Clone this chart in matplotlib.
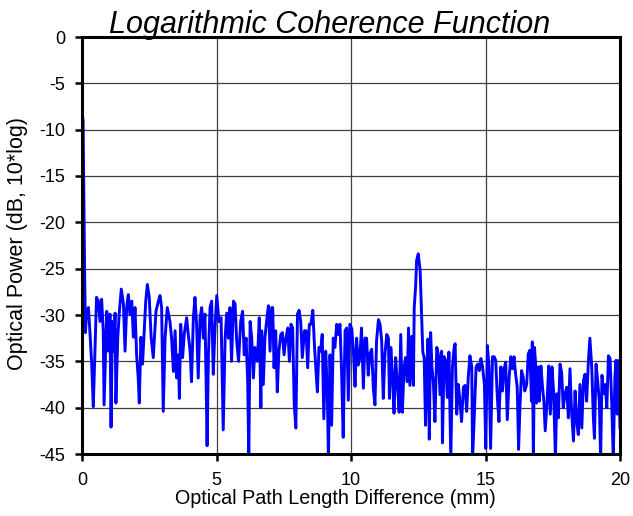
import numpy as np
import matplotlib
matplotlib.use("Agg")
import matplotlib.pyplot as plt

plt.rcParams['font.family'] = ['Liberation Sans', 'DejaVu Sans']

title = "Logarithmic Coherence Function"
xlabel = "Optical Path Length Difference (mm)"
ylabel = "Optical Power (dB, 10*log)"
xticks = [0, 5, 10, 15, 20]
yticks = [0, -5, -10, -15, -20, -25, -30, -35, -40, -45]

# segment 0: zero-delay peak and 0-3.3 mm
x_seg1 = [0.0, 0.04, 0.06, 0.08, 0.10, 0.13, 0.17, 0.24, 0.30, 0.36, 0.42, 0.48, 0.54, 0.61, 0.67,
          0.73, 0.79, 0.82, 0.92, 0.98, 1.04, 1.08, 1.13, 1.17, 1.23, 1.26, 1.33, 1.39, 1.46,
          1.54, 1.60, 1.66, 1.72, 1.78, 1.85, 1.91, 1.97, 2.03, 2.09, 2.13, 2.19, 2.25, 2.30,
          2.37, 2.43, 2.50, 2.57, 2.65, 2.75, 2.84, 2.90, 2.96, 3.02, 3.09, 3.17, 3.27]
y_seg1 = [-8.2, -9.0, -15.0, -21.0, -26.0, -31.9, -29.6, -29.2, -32.1, -35.3, -39.9, -33.8, -28.1, -28.5, -30.7,
          -28.3, -31.7, -39.7, -29.6, -33.9, -29.9, -42.1, -30.7, -33.9, -29.8, -39.5, -32.4, -29.6, -27.2,
          -28.8, -33.9, -29.2, -27.8, -29.9, -28.5, -32.4, -29.2, -34.3, -36.8, -39.5, -32.4, -35.3, -32.4,
          -28.5, -26.7, -28.1, -32.4, -34.6, -29.6, -28.5, -27.9, -29.2, -40.4, -32.4, -29.2, -30.7]

x_seg2 = [3.33, 3.40, 3.46, 3.52, 3.58, 3.62, 3.67, 3.74, 3.80, 3.89, 3.95, 4.02, 4.07, 4.14,
          4.20, 4.26, 4.32, 4.39, 4.45, 4.51, 4.57, 4.61, 4.65, 4.70, 4.76, 4.82, 4.88, 4.94,
          5.01, 5.09, 5.17, 5.25, 5.32, 5.38, 5.44, 5.50, 5.56, 5.63, 5.69, 5.75, 5.82, 5.90,
          5.97, 6.03, 6.10, 6.16, 6.20, 6.25, 6.31, 6.37, 6.43, 6.52, 6.59, 6.65]
y_seg2 = [-32.5, -36.1, -31.7, -36.8, -34.3, -39.0, -31.0, -34.6, -32.1, -30.3, -32.1, -33.9, -37.2, -30.3,
          -28.1, -31.0, -36.8, -30.3, -29.2, -32.5, -29.9, -36.4, -44.1, -34.3, -29.2, -28.5, -36.4, -31.7,
          -27.9, -30.7, -30.3, -42.4, -32.5, -29.8, -32.5, -29.2, -35.0, -28.5, -28.8, -32.8, -35.0, -30.7,
          -29.6, -34.3, -32.5, -37.2, -45.5, -30.7, -32.5, -36.8, -33.5, -35.0, -30.3, -40.0]

x_seg3 = [6.68, 6.74, 6.80, 6.86, 6.93, 6.99, 7.05, 7.09, 7.14, 7.20, 7.26, 7.32, 7.39, 7.45,
          7.51, 7.58, 7.65, 7.71, 7.77, 7.83, 7.89, 7.95, 8.01, 8.07, 8.13, 8.19, 8.27, 8.33,
          8.39, 8.45, 8.51, 8.58, 8.64, 8.70, 8.75, 8.81, 8.87, 8.93, 8.99, 9.06, 9.12, 9.16,
          9.22, 9.28, 9.34, 9.40, 9.47, 9.53, 9.59, 9.65, 9.71, 9.78, 9.84, 9.90, 9.96]
y_seg3 = [-31.7, -37.5, -32.5, -30.7, -29.0, -33.9, -29.2, -29.2, -35.7, -31.7, -38.3, -33.9, -32.1, -31.9,
          -34.3, -32.5, -31.4, -35.0, -31.0, -31.4, -39.7, -42.2, -29.9, -29.5, -30.7, -34.6, -31.7, -31.7,
          -35.7, -31.0, -31.0, -29.5, -33.2, -36.1, -38.3, -33.5, -33.9, -32.1, -41.2, -33.9, -38.3, -45.5,
          -34.3, -41.9, -32.5, -33.5, -31.0, -32.1, -31.0, -36.1, -43.2, -31.7, -31.4, -39.2, -31.0]

x_seg4 = [10.03, 10.09, 10.15, 10.21, 10.27, 10.33, 10.39, 10.46, 10.52, 10.58, 10.64, 10.71, 10.77,
          10.83, 10.89, 10.95, 11.02, 11.08, 11.14, 11.20, 11.26, 11.33, 11.39, 11.43, 11.48, 11.54,
          11.60, 11.66, 11.72, 11.79, 11.85, 11.91, 11.97, 12.03, 12.09, 12.14, 12.19, 12.26, 12.32,
          12.35, 12.40, 12.44, 12.50, 12.57, 12.63, 12.67, 12.72, 12.77, 12.81, 12.86, 12.91, 12.96,
          13.01, 13.06, 13.12, 13.19, 13.25, 13.31, 13.37]
y_seg4 = [-31.5, -33.9, -37.7, -32.5, -35.4, -34.6, -31.4, -37.9, -32.5, -32.5, -36.5, -34.1, -33.7,
          -37.9, -39.7, -32.8, -30.5, -31.0, -32.8, -39.0, -34.3, -32.1, -32.5, -39.0, -33.5, -36.5,
          -40.6, -34.6, -37.2, -40.5, -32.1, -40.5, -35.7, -34.6, -37.2, -31.4, -37.6, -32.3, -37.6,
          -29.2, -27.0, -24.1, -23.4, -25.2, -30.3, -34.0, -34.6, -41.9, -36.5, -32.6, -43.4, -31.9,
          -35.7, -37.2, -41.5, -33.5, -34.3, -38.6, -33.9]

x_seg5 = [13.40, 13.46, 13.52, 13.58, 13.64, 13.71, 13.77, 13.83, 13.87, 13.93, 13.99, 14.05, 14.11,
          14.18, 14.24, 14.30, 14.36, 14.42, 14.49, 14.52, 14.58, 14.65, 14.71, 14.77, 14.83, 14.89,
          14.96, 15.01, 15.07, 15.13, 15.19, 15.26, 15.32, 15.38, 15.44, 15.50, 15.57, 15.63, 15.69,
          15.75, 15.81, 15.88, 15.94, 16.00, 16.06, 16.12, 16.18, 16.23, 16.28, 16.34, 16.40, 16.46,
          16.53, 16.59, 16.65, 16.71]
y_seg5 = [-43.8, -34.5, -34.9, -38.9, -34.0, -45.5, -35.6, -33.6, -33.1, -40.7, -37.5, -39.3, -41.5,
          -37.8, -37.6, -40.4, -36.7, -34.4, -35.6, -45.5, -41.1, -35.6, -35.3, -36.0, -34.7, -35.6,
          -37.5, -44.4, -33.3, -35.6, -44.4, -34.5, -34.5, -34.9, -38.9, -41.5, -35.6, -38.2, -35.8,
          -35.1, -41.3, -36.7, -34.5, -35.8, -34.5, -36.4, -37.8, -44.5, -40.0, -36.0, -36.7, -38.2,
          -37.5, -34.2, -33.8, -39.3]

x_seg6 = [16.74, 16.78, 16.82, 16.86, 16.90, 16.96, 17.00, 17.06, 17.12, 17.17, 17.22, 17.29, 17.35,
          17.41, 17.47, 17.53, 17.60, 17.65, 17.71, 17.77, 17.83, 17.89, 17.96, 18.02, 18.08, 18.14,
          18.20, 18.27, 18.33, 18.39, 18.45, 18.51, 18.58, 18.64, 18.70, 18.76, 18.82, 18.88, 18.95,
          19.01, 19.05, 19.11, 19.17, 19.23, 19.28, 19.33, 19.39, 19.45, 19.51, 19.57, 19.63, 19.69,
          19.75, 19.81, 19.85, 19.90, 19.94, 20.00]
y_seg6 = [-32.9, -45.5, -33.5, -35.1, -39.5, -35.6, -39.3, -35.5, -37.8, -39.3, -42.5, -39.3, -35.5,
          -40.7, -35.6, -38.2, -45.5, -38.5, -41.1, -35.3, -36.2, -40.0, -38.5, -37.8, -41.1, -35.8,
          -40.4, -43.6, -38.2, -41.5, -42.9, -37.5, -42.2, -37.1, -36.4, -39.3, -35.3, -32.5, -35.6,
          -41.1, -43.3, -35.3, -37.1, -39.3, -45.5, -36.5, -38.5, -37.5, -40.0, -34.4, -34.7, -39.3,
          -45.5, -36.7, -34.9, -40.7, -34.9, -42.2]

x_all = np.concatenate([x_seg1, x_seg2, x_seg3, x_seg4, x_seg5, x_seg6])
y_all = np.concatenate([y_seg1, y_seg2, y_seg3, y_seg4, y_seg5, y_seg6])

fig = plt.figure(figsize=(6.33, 5.16), dpi=100)
ax = fig.add_axes([82/633, 62/516, 538/633, 417/516])

ax.plot(x_all, y_all, color='#0000FF', linewidth=2.1, zorder=3, clip_on=True)

ax.set_xlim(0, 20)
ax.set_ylim(-45, 0)
ax.set_xticks(xticks)
ax.set_yticks(yticks)
ax.set_xticklabels([str(t) for t in xticks], fontsize=13)
ax.set_yticklabels([str(t) for t in yticks], fontsize=13)
ax.grid(True, color='#404040', linewidth=0.9, zorder=1)
for s in ax.spines.values():
    s.set_linewidth(2.2)
    s.set_color('black')
    s.set_zorder(4)
ax.tick_params(axis='both', direction='out', length=5, width=1.8, colors='black')
ax.tick_params(axis='x', pad=8)
ax.tick_params(axis='y', pad=7)

fig.text(330/633, 1 - 33/516, title, fontsize=22, style='italic', ha='center', va='baseline')
fig.text(335/633, 1 - 498/516, xlabel, fontsize=14.2, ha='center', va='center')
fig.text(18/633, 1 - 244/516, ylabel, fontsize=15.5, ha='center', va='center', rotation=90)

fig.savefig("out.png", dpi=100)
